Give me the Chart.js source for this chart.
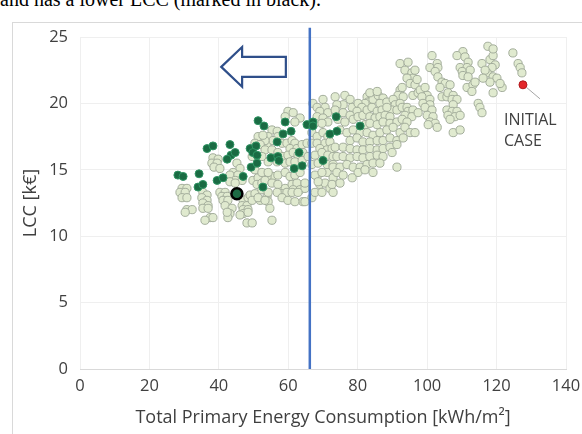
<!DOCTYPE html>
<html>
<head>
<meta charset="utf-8">
<script src="https://cdn.jsdelivr.net/npm/chart.js@4.4.1/dist/chart.umd.min.js"></script>
<style>
  html, body { margin: 0; padding: 0; background: #ffffff; }
  body { width: 582px; height: 434px; position: relative; overflow: hidden; }
  #caption {
    position: absolute; left: 0; top: -12px;
    font-family: "Liberation Serif", serif; font-size: 20px; color: #000;
    white-space: nowrap;
  }
  #frame {
    position: absolute; left: 12px; top: 22px; width: 580px; height: 420px;
    border: 1px solid #d9d9d9; box-sizing: border-box;
  }
  #wrap { position: absolute; left: 0; top: 0; width: 582px; height: 434px; }
</style>
</head>
<body>
<div id="caption">and has a lower LCC (marked in black).</div>
<div id="frame"></div>
<div id="wrap"><canvas id="chartLcc" width="582" height="434"></canvas></div>
<script>
// valores: x = energia primária [kWh/m2], y = LCC [k€]
const frontPoints = [
  [28.2,14.6],[29.7,14.5],[34.3,14.7],[34.0,13.7],[35.4,13.9],[36.6,16.6],[38.3,16.8],
  [43.2,16.9],[43.5,16.1],[42.4,15.8],[44.7,16.3],[49.0,16.6],[50.7,16.8],[49.8,16.3],
  [51.0,16.1],[49.3,15.2],[51.0,15.5],[51.3,18.7],[53.0,18.3],[55.0,15.9],[57.0,16.0],
  [57.3,15.7],[56.8,17.1],[59.1,18.6],[58.5,17.7],[60.8,17.9],[63.1,16.3],[64.0,15.3],
  [61.7,15.1],[65.4,18.4],[67.1,18.6],[67.1,18.3],[73.8,19.0],[72.0,17.7],[74.0,17.9],
  [70.0,15.7],[80.7,18.3],[39.5,14.2],[41.2,14.4],[47.0,14.5],[52.7,13.7]
];

const otherPoints = [
  // parte de baixo à esquerda
  [38.3,15.9],[39.8,15.8],[38.0,15.5],[39.5,15.5],[38.6,15.2],[40.3,15.1],[45.2,15.5],
  [46.1,15.1],[44.1,14.8],[43.2,14.6],[45.5,14.6],[44.7,14.2],[46.7,14.2],[29.4,13.6],
  [30.8,13.6],[28.8,13.3],[30.3,13.3],[29.4,12.9],[30.8,12.9],[35.4,13.3],[36.6,13.1],
  [35.1,12.9],[36.6,12.7],[35.4,12.5],[36.9,12.3],[35.4,12.1],[36.9,12.1],[40.3,13.3],
  [41.8,13.3],[40.9,13.0],[42.4,13.0],[41.2,12.7],[42.6,12.7],[41.8,12.3],[43.8,12.1],
  [43.2,11.7],[47.0,12.7],[48.4,12.9],[46.7,12.3],[48.1,12.3],[47.0,12.0],[48.4,12.0],
  [30.8,12.0],[32.3,12.0],[37.5,11.4],[38.3,11.4],[42.6,11.4],[30.3,11.8],[36.0,11.2],
  [42.4,11.8],[43.2,14.1],[44.7,14.0],[47.0,11.7],[48.4,11.8],[46.1,11.6],[49.0,13.1],
  [50.4,13.2],[49.6,12.7],[49.8,14.2],[51.3,14.4],[51.0,13.9],[52.4,14.0],[48.1,11.0],
  [49.6,11.0],[51.9,12.7],[53.9,13.0],[54.2,12.6],[54.7,12.1],[55.3,11.2],[57.6,13.5],
  [59.1,13.6],[58.2,13.2],[59.6,13.3],[61.1,13.9],[62.5,14.0],[61.4,13.5],[55.6,14.5],
  [57.0,14.6],[53.9,14.5],[64.2,12.6],[66.8,12.9],[63.4,13.5],[64.8,13.6],[69.1,13.9],
  [70.6,14.0],[72.0,13.6],[72.9,13.3],[68.3,14.5],[71.2,14.8],[72.9,14.4],[53.9,16.9],
  // meio, perto da linha azul
  [59.9,19.4],[61.4,19.3],[59.1,19.0],[63.4,18.9],[61.9,18.6],[67.1,20.0],[68.3,19.7],
  [70.0,20.3],[70.6,19.7],[69.1,19.4],[71.4,19.3],[68.3,19.0],[70.0,18.9],[71.4,18.6],
  [67.7,18.5],[69.7,18.5],[55.3,18.0],[56.8,17.9],[54.2,17.5],[57.0,17.5],[55.6,17.2],
  [53.3,17.2],[51.3,17.5],[52.7,17.6],[50.4,17.0],[51.9,16.9],[58.2,17.0],[59.6,17.0],
  [61.1,17.2],[61.9,17.0],[60.5,16.6],[62.5,16.6],[64.0,16.9],[65.4,17.0],[66.8,17.8],
  [68.3,17.5],[70.0,17.8],[71.4,17.5],[66.8,17.0],[68.3,17.0],[70.6,17.0],[72.0,17.1],
  [69.1,16.6],[71.2,16.5],[72.6,16.6],[53.3,16.5],[55.3,16.5],[57.0,16.3],[58.5,16.0],
  [59.9,16.1],[61.4,16.3],[62.8,16.1],[64.2,16.3],[49.6,16.0],[52.4,16.0],[54.2,15.6],
  [56.8,15.6],[59.1,15.5],[60.5,15.6],[61.9,15.6],[64.0,15.7],[65.7,16.0],[67.7,16.1],
  [69.7,16.3],[71.4,16.1],[72.9,16.0],[66.8,15.4],[68.6,15.5],[71.2,15.4],[72.9,15.4],
  [50.4,15.0],[52.4,14.8],[54.2,14.8],[59.1,14.8],[60.5,14.5],[61.9,14.6],[63.4,14.8],
  [53.3,14.2],[55.3,14.0],[57.0,13.9],[64.8,14.0],[67.7,14.6],[69.7,14.8],[68.6,14.1],
  [72.6,13.9],[52.4,13.5],[54.2,13.3],[56.8,13.3],[61.1,13.3],[62.8,13.3],[51.3,12.9],
  [53.3,12.7],[58.2,12.9],[59.9,12.7],[61.9,12.6],[64.8,12.6],[67.7,13.3],[69.7,13.3],
  [73.5,20.5],
  // centro-direita
  [92.2,23.0],[94.5,23.1],[93.6,22.5],[95.6,22.3],[95.9,21.9],[94.2,21.9],[95.1,21.5],
  [96.5,21.4],[92.2,21.0],[91.6,20.6],[93.1,20.5],[95.9,20.6],[97.4,20.8],[82.7,20.5],
  [84.1,20.6],[83.0,20.1],[84.4,20.3],[82.1,20.0],[85.9,20.6],[87.3,20.4],[86.4,20.0],
  [88.4,20.1],[90.2,20.3],[90.8,19.9],[92.2,20.0],[89.9,19.5],[91.3,19.5],[92.8,19.7],
  [94.2,19.7],[94.5,19.4],[95.9,19.5],[93.6,19.1],[95.6,19.0],[97.4,19.3],[76.3,20.6],
  [77.8,20.3],[75.8,19.9],[74.0,19.9],[78.4,19.7],[80.1,20.0],[81.2,19.7],[79.8,19.4],
  [73.5,19.5],[75.8,19.3],[77.8,19.1],[74.3,18.8],[76.3,18.6],[78.7,18.8],[80.1,19.0],
  [81.5,19.1],[82.7,19.5],[84.1,19.7],[85.6,19.4],[87.0,19.5],[88.4,19.7],[83.5,19.0],
  [85.0,18.9],[86.4,19.0],[87.9,19.1],[89.3,19.0],[82.1,18.4],[83.5,18.5],[85.6,18.4],
  [87.3,18.6],[89.3,18.5],[91.3,18.6],[92.8,18.8],[94.2,18.6],[74.9,18.0],[76.9,17.8],
  [78.7,18.0],[80.7,17.8],[82.7,17.8],[84.4,17.6],[86.4,17.8],[88.4,18.0],[90.2,18.2],
  [92.2,17.8],[93.6,18.2],[95.1,17.8],[77.8,17.2],[79.8,17.4],[81.5,17.1],[83.5,17.1],
  [85.6,17.2],[87.3,17.2],[89.3,17.4],[91.3,17.2],[93.1,17.4],[73.5,16.7],[75.8,16.7],
  [77.8,16.6],[79.8,16.5],[81.5,16.5],[83.5,16.6],[85.6,16.5],[87.3,16.6],[89.3,16.7],
  [91.3,16.9],[74.0,16.0],[75.8,16.0],[77.8,15.9],[79.8,16.0],[81.5,15.9],[83.5,16.0],
  [85.6,16.1],[87.3,16.0],[89.9,16.3],[72.9,15.2],[74.9,15.2],[76.9,15.4],[78.7,15.2],
  [80.7,15.2],[82.7,15.4],[84.4,15.5],[86.4,15.5],[74.0,14.8],[75.8,14.6],[80.1,14.8],
  [82.1,15.0],[84.4,14.8],[91.3,15.2],[74.9,14.0],[78.4,14.4],[83.5,20.8],[85.6,20.9],
  [92.8,21.2],
  // direita, parte alta
  [117.5,24.3],[101.4,23.6],[110.3,23.9],[108.6,23.6],[110.9,23.5],[111.8,23.1],[109.5,22.7],
  [111.5,22.7],[110.1,22.4],[112.4,22.5],[110.3,22.1],[111.8,22.0],[100.8,22.7],[102.9,23.0],
  [103.1,22.7],[102.3,22.4],[103.1,22.0],[104.3,21.6],[105.2,21.5],[106.6,21.4],[103.7,21.2],
  [96.5,22.5],[97.1,21.8],[115.8,23.0],[118.1,23.3],[119.0,23.6],[119.6,22.9],[118.7,22.7],
  [117.3,22.3],[119.0,22.0],[120.1,21.9],[118.1,21.6],[121.6,21.2],[119.0,20.8],[111.5,21.2],
  [113.2,21.4],[112.9,20.9],[113.8,21.6],[98.0,21.0],[99.4,21.2],[100.0,20.6],[98.5,20.5],
  [100.8,20.3],[98.8,20.0],[100.8,19.9],[99.4,19.7],[101.4,19.5],[100.0,19.1],[101.7,19.0],
  [100.8,18.6],[102.3,18.5],[100.3,18.4],[102.9,18.2],[104.3,20.5],[105.7,20.5],[106.0,20.8],
  [107.5,20.6],[107.2,20.3],[108.6,20.3],[107.5,19.9],[105.7,19.5],[107.2,19.4],[108.6,19.4],
  [106.0,19.1],[108.0,19.0],[109.5,19.1],[106.6,18.8],[114.7,20.0],[115.2,19.7],[115.8,19.3],
  [107.5,17.8],[109.5,18.0],[96.5,17.8],[124.7,23.8],[126.2,23.0],[126.8,22.7],[127.3,22.3],
  [119.0,24.1],[121.0,21.5],[116.7,22.5],[116.1,21.9]
];

const initialCase = [127.6, 21.4];
const chosenPoint = [45.2, 13.2];
const limitX = 66.2;
const limitY = [0, 25.7];

const toXY = p => ({ x: p[0], y: p[1] });

const labelFont = '"Open Sans", sans-serif';

// desenha a seta, o texto INITIAL CASE e a linha que liga ao ponto vermelho
const extrasPlugin = {
  id: 'extras',
  afterDatasetsDraw(chart) {
    const ctx = chart.ctx;
    const sx = chart.scales.x;
    const sy = chart.scales.y;

    // seta vazada apontando para a esquerda
    const tipX = sx.getPixelForValue(40.7);
    const headX = sx.getPixelForValue(46.7);
    const endX = sx.getPixelForValue(59.3);
    const midY = sy.getPixelForValue(22.75);
    const headTop = sy.getPixelForValue(24.25);
    const headBot = sy.getPixelForValue(21.25);
    const shaftTop = sy.getPixelForValue(23.5);
    const shaftBot = sy.getPixelForValue(22.0);
    ctx.save();
    ctx.beginPath();
    ctx.moveTo(tipX, midY);
    ctx.lineTo(headX, headTop);
    ctx.lineTo(headX, shaftTop);
    ctx.lineTo(endX, shaftTop);
    ctx.lineTo(endX, shaftBot);
    ctx.lineTo(headX, shaftBot);
    ctx.lineTo(headX, headBot);
    ctx.closePath();
    ctx.fillStyle = '#ffffff';
    ctx.fill();
    ctx.lineWidth = 2.2;
    ctx.strokeStyle = '#2f4f8a';
    ctx.lineJoin = 'miter';
    ctx.stroke();

    // linha de chamada e texto
    const px = sx.getPixelForValue(initialCase[0]);
    const py = sy.getPixelForValue(initialCase[1]);
    ctx.beginPath();
    ctx.moveTo(px + 4, py + 3);
    ctx.lineTo(px + 17, py + 14);
    ctx.lineWidth = 1;
    ctx.strokeStyle = '#a6a6a6';
    ctx.stroke();

    ctx.fillStyle = '#404040';
    ctx.font = '16px ' + labelFont;
    ctx.textAlign = 'left';
    ctx.textBaseline = 'middle';
    ctx.fillText('INITIAL', px - 19, py + 36);
    ctx.fillText('CASE', px - 19, py + 57);
    ctx.restore();
  }
};

const ctxLcc = document.getElementById('chartLcc').getContext('2d');
const chartLcc = new Chart(ctxLcc, {
  type: 'scatter',
  data: {
    datasets: [
      {
        // ponto escolhido, marcado em preto
        data: [toXY(chosenPoint)],
        backgroundColor: '#1d6b45',
        borderColor: '#000000',
        borderWidth: 2.5,
        pointRadius: 5.5
      },
      {
        data: [toXY(initialCase)],
        backgroundColor: '#e3262a',
        borderColor: '#b01a1e',
        borderWidth: 1,
        pointRadius: 4
      },
      {
        data: frontPoints.map(toXY),
        backgroundColor: '#1a6b43',
        borderColor: '#2f9463',
        borderWidth: 1,
        pointRadius: 4
      },
      {
        type: 'line',
        data: limitY.map(v => ({ x: limitX, y: v })),
        borderColor: '#4472c4',
        borderWidth: 2.5,
        pointRadius: 0,
        clip: false
      },
      {
        data: otherPoints.map(toXY),
        backgroundColor: '#e0eacf',
        borderColor: '#a3ad9b',
        borderWidth: 1,
        pointRadius: 4.1
      }
    ]
  },
  options: {
    responsive: false,
    animation: false,
    layout: { padding: { left: 20, right: 16, top: 37, bottom: 4 } },
    plugins: {
      legend: { display: false },
      tooltip: { enabled: false }
    },
    scales: {
      x: {
        type: 'linear',
        min: 0,
        max: 140,
        ticks: { stepSize: 20, padding: 7, color: '#404040', font: { family: labelFont, size: 16.5 } },
        grid: { color: '#efefef', drawTicks: false },
        border: { color: '#d9d9d9' },
        title: {
          display: true,
          text: 'Total Primary Energy Consumption [kWh/m²]',
          color: '#404040',
          font: { family: labelFont, size: 18 },
          padding: { top: 0, bottom: 1 }
        },
        afterFit: s => { s.height = 61; s.paddingRight = 0; s.paddingLeft = 0; }
      },
      y: {
        min: 0,
        max: 25,
        ticks: { stepSize: 5, padding: 12, color: '#404040', font: { family: labelFont, size: 16.5 } },
        grid: { color: '#efefef', drawTicks: false },
        border: { display: false },
        title: {
          display: true,
          text: 'LCC [k€]',
          color: '#404040',
          font: { family: labelFont, size: 18 },
          padding: 0
        },
        afterFit: s => { s.width = 60; s.paddingTop = 0; s.paddingBottom = 0; }
      }
    }
  },
  plugins: [extrasPlugin]
});
</script>
</body>
</html>
